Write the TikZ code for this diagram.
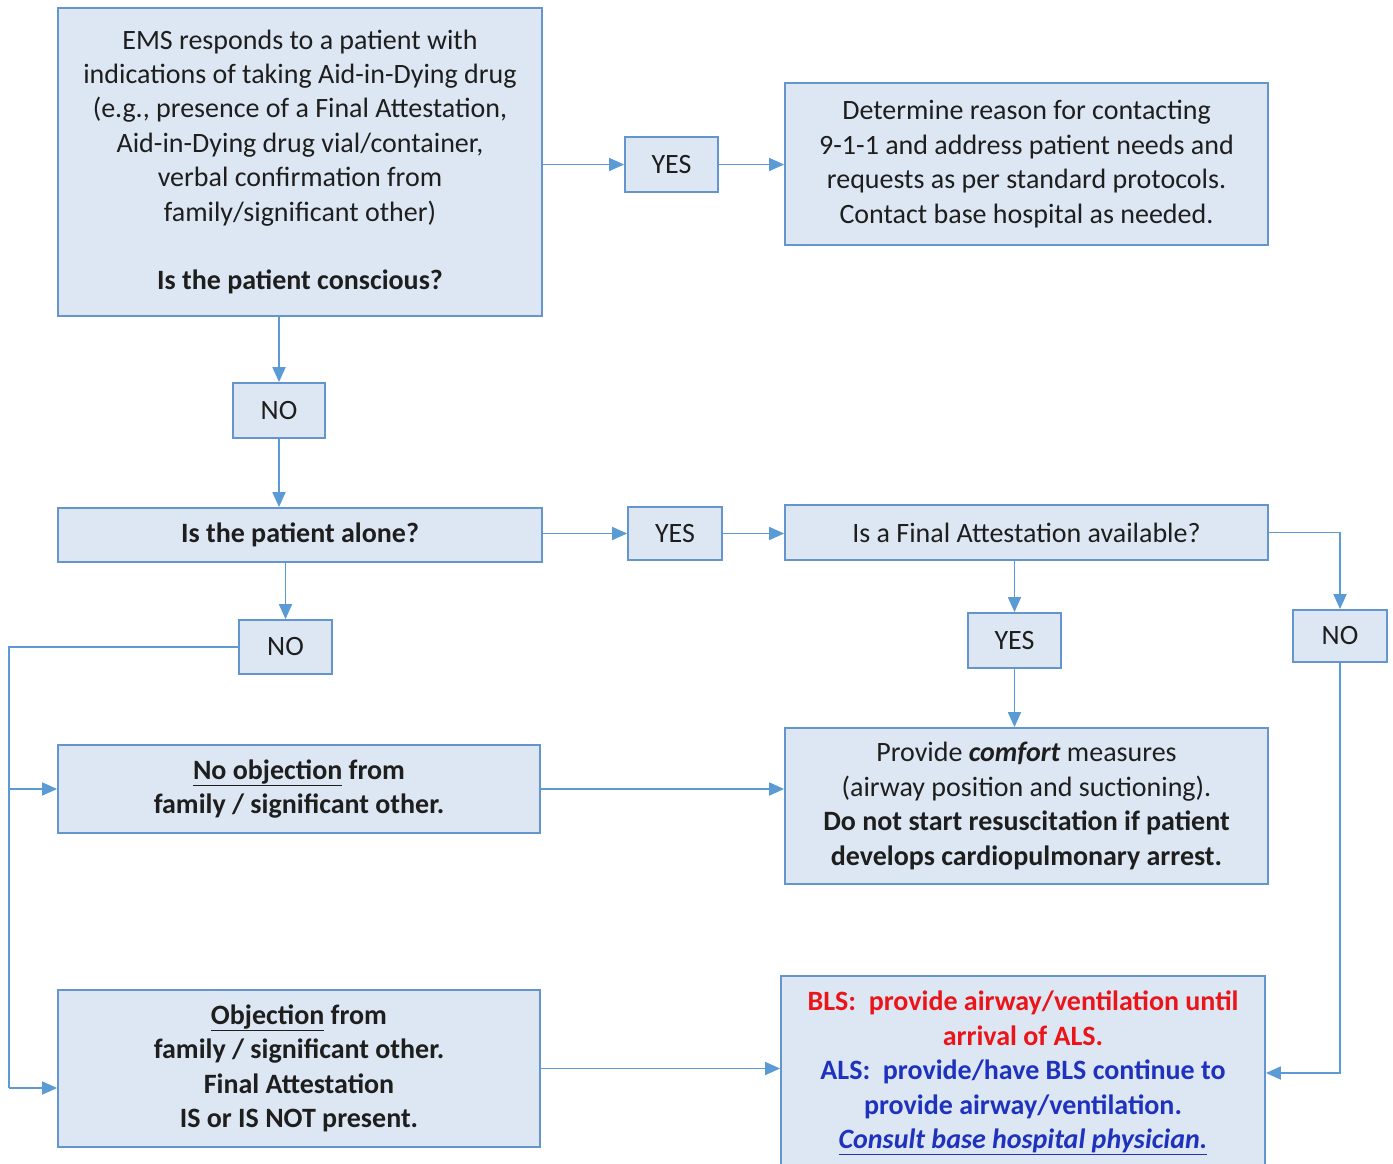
\documentclass[tikz,border=0pt]{standalone}
\usepackage{fontspec}
\setmainfont{Carlito}
\usetikzlibrary{arrows.meta}
\definecolor{boxfill}{RGB}{221,231,243}
\definecolor{boxline}{RGB}{100,150,205}
\definecolor{arr}{RGB}{91,155,213}
\definecolor{txt}{RGB}{30,30,30}
\definecolor{redt}{RGB}{235,20,25}
\definecolor{bluet}{RGB}{30,50,190}
\begin{document}
\begin{tikzpicture}[x=1pt,y=-1pt,
 box/.style={draw=boxline, fill=boxfill, line width=1.8pt, align=center, inner sep=0pt,
   font=\fontsize{28}{34.4}\selectfont, text=txt},
 conn/.style={draw=arr, line width=1.8pt, -{Triangle[length=15pt,width=13pt]}},
 plain/.style={draw=arr, line width=1.8pt}]
\useasboundingbox (0,0) rectangle (1393,1164);
\clip (0,0) rectangle (1393,1164);
\fill[white] (0,0) rectangle (1393,1164);

\node[box, minimum width=484, minimum height=308] (A) at (300,162)
 {EMS responds to a patient with\\ indications of taking Aid-in-Dying drug\\ (e.g., presence of a Final Attestation,\\ Aid-in-Dying drug vial/container,\\ verbal confirmation from\\ family/significant other)\\[34.5pt] \textbf{Is the patient conscious?}};
\node[box, minimum width=93, minimum height=55] (YES1) at (671.5,164.5) {YES};
\node[box, minimum width=483, minimum height=162] (B) at (1026.5,164)
 {Determine reason for contacting\\ 9-1-1 and address patient needs and\\ requests as per standard protocols.\\ Contact base hospital as needed.};
\node[box, minimum width=92, minimum height=55] (NO1) at (279,410.5) {NO};
\node[box, minimum width=484, minimum height=54] (C) at (300,535) {\textbf{Is the patient alone?}};
\node[box, minimum width=94, minimum height=53] (YES2) at (675,533.5) {YES};
\node[box, minimum width=483, minimum height=55] (D) at (1026.5,532.5) {Is a Final Attestation available?};
\node[box, minimum width=94, minimum height=52] (NO3) at (1340,636) {NO};
\node[box, minimum width=93, minimum height=55] (YES3) at (1014.5,640.5) {YES};
\node[box, minimum width=483, minimum height=156] (E) at (1026.5,806)
 {Provide \textbf{\textit{comfort}} measures\\ (airway position and suctioning).\\ \textbf{Do not start resuscitation if patient}\\ \textbf{develops cardiopulmonary arrest.}};
\node[box, minimum width=93, minimum height=54] (NO2) at (285.5,647) {NO};
\node[box, minimum width=482, minimum height=88] (F) at (299,789)
 {\textbf{\underline{No objection} from}\\ \textbf{family / significant other.}};
\node[box, minimum width=482, minimum height=157] (G) at (299,1068.5)
 {\textbf{\underline{Objection} from}\\ \textbf{family / significant other.}\\ \textbf{Final Attestation}\\ \textbf{IS or IS NOT present.}};
\node[box, minimum width=484, minimum height=194] (H) at (1023,1073)
 {\textcolor{redt}{\textbf{BLS:\ \ provide airway/ventilation until}}\\
  \textcolor{redt}{\textbf{arrival of ALS.}}\\
  \textcolor{bluet}{\textbf{ALS:\ \ provide/have BLS continue to}}\\
  \textcolor{bluet}{\textbf{provide airway/ventilation.}}\\
  \textcolor{bluet}{\textbf{\textit{\underline{Consult base hospital physician.}}}}};

\draw[conn] (YES1.west -| A.east) -- (YES1.west);
\draw[conn] (YES1.east) -- (YES1.east -| B.west);
\draw[conn] (NO1.north |- A.south) -- (NO1.north);
\draw[conn] (NO1.south) -- (NO1.south |- C.north);
\draw[conn] (YES2.west -| C.east) -- (YES2.west);
\draw[conn] (YES2.east) -- (YES2.east -| D.west);
\draw[conn] (D.east) -| (NO3.north);
\draw[conn] (YES3.north |- D.south) -- (YES3.north);
\draw[conn] (YES3.south) -- (YES3.south |- E.north);
\draw[conn] (NO2.north |- C.south) -- (NO2.north);
\coordinate (Lt) at (9,647);
\coordinate (Lb) at (9,1088);
\draw[plain] (NO2.west) -- (Lt) -- (Lb);
\draw[conn] (F.west -| Lt) -- (F.west);
\draw[conn] (Lb) -- (Lb -| G.west);
\draw[conn] (F.east) -- (F.east -| E.west);
\draw[conn] (G.east) -- (G.east -| H.west);
\draw[conn] (NO3.south) |- (H.east);
\end{tikzpicture}
\end{document}
